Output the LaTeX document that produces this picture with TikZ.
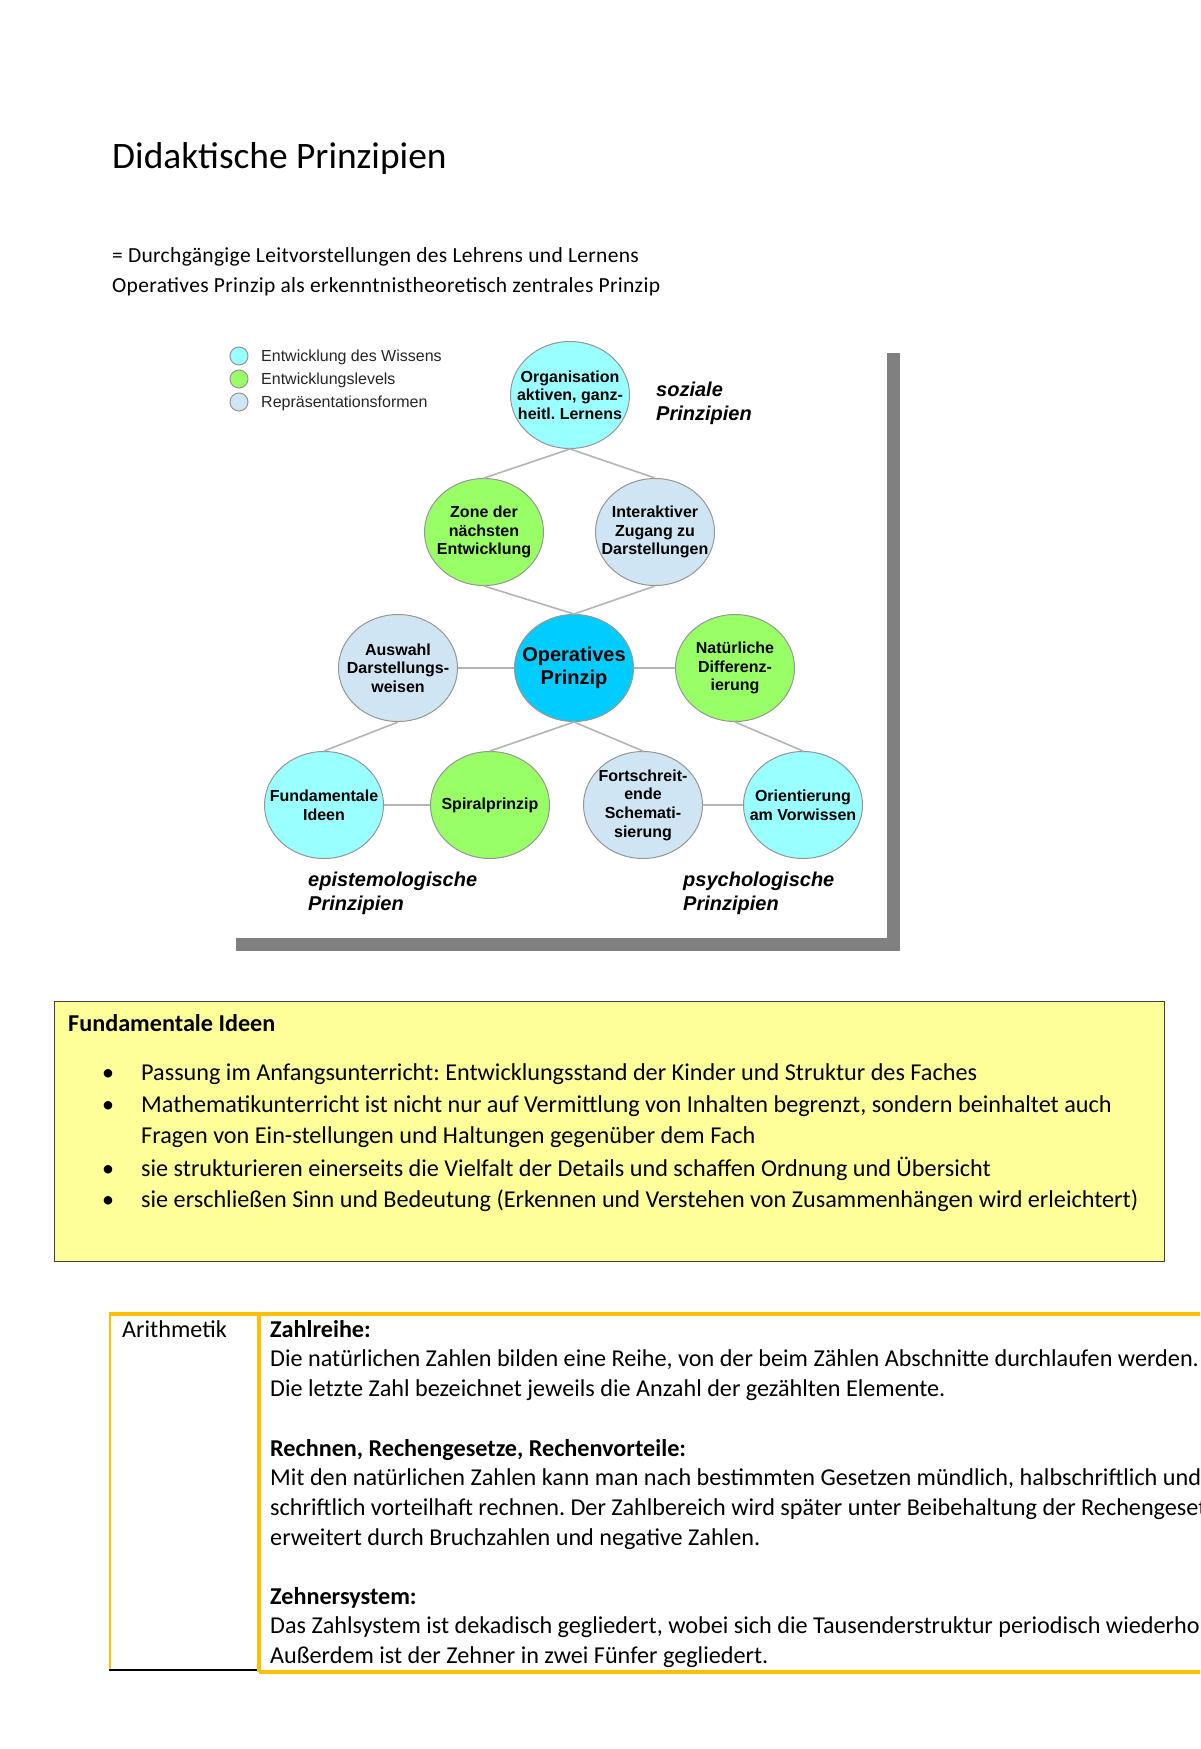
\documentclass[tikz,border=0pt]{standalone}
\usepackage{fontspec}
\setmainfont{Carlito}
\newfontfamily\arialf{Liberation Sans}
\newfontfamily\headf[LetterSpace=1.5]{Carlito}
\usetikzlibrary{shapes.geometric}
\definecolor{cyanL}{RGB}{153,255,255}
\definecolor{cyanD}{RGB}{0,204,255}
\definecolor{greenL}{RGB}{153,255,102}
\definecolor{blueL}{RGB}{207,229,244}
\definecolor{circBorder}{RGB}{150,150,150}
\definecolor{connGray}{RGB}{180,180,180}
\definecolor{shadowGray}{RGB}{128,128,128}
\definecolor{boxYellow}{RGB}{255,255,153}
\definecolor{tabOrange}{RGB}{255,192,0}
\begin{document}
\frenchspacing
\begin{tikzpicture}[x=1pt,y=-1pt,
  circ/.style={ellipse, draw=circBorder, line width=1pt, minimum width=119pt, minimum height=107pt, inner sep=0pt},
  lbl/.style={inner sep=0pt, align=center, font=\arialf\bfseries\fontsize{16}{18.6}\selectfont},
  conn/.style={draw=connGray, line width=1.6pt},
  legdot/.style={circle, draw=circBorder, line width=1pt, minimum size=18pt, inner sep=0pt},
  legtext/.style={anchor=west, inner sep=0pt, font=\arialf\fontsize{16}{19}\selectfont, text=black!85},
  grp/.style={anchor=west, align=left, inner sep=0pt, font=\arialf\bfseries\itshape\fontsize{20}{24}\selectfont},
  doc/.style={anchor=base west, inner sep=0pt, font=\headf\fontsize{21.5}{25}\selectfont},
  boxtext/.style={anchor=base west, inner sep=0pt, font=\fontsize{24.2}{29}\selectfont},
  boxbold/.style={boxtext, font=\bfseries\fontsize{24.2}{29}\selectfont},
  bul/.style={anchor=base, inner sep=0pt, font=\fontsize{24}{29}\selectfont},
]
\useasboundingbox[fill=white] (0,0) rectangle (1200,1749);

% header
\node[doc, font=\fontsize{37.4}{42}\selectfont] (title) at (112,168) {Didaktische Prinzipien};
\node[doc] (l1) at (112,262) {= Durchgängige Leitvorstellungen des Lehrens und Lernens};
\node[doc] (l2) at (112,292) {Operatives Prinzip als erkenntnistheoretisch zentrales Prinzip};

% diagram frame shadow
\fill[shadowGray] (887,353) rectangle (900,951);
\fill[shadowGray] (236,938) rectangle (900,951);

% legend
\node[legdot, fill=cyanL] (lg1) at (239,356) {};
\node[legdot, fill=greenL] (lg2) at (239,379) {};
\node[legdot, fill=blueL] (lg3) at (239,402) {};
\node[legtext] (lt1) at (261,357) {Entwicklung des Wissens};
\node[legtext] (lt2) at (261,380) {Entwicklungslevels};
\node[legtext] (lt3) at (261,403) {Repräsentationsformen};

% circles
\node[circ, fill=cyanL, label={[lbl]center:Organisation\\aktiven, ganz-\\heitl. Lernens}] (org) at (570,395) {};
\node[circ, fill=greenL, label={[lbl]center:Zone der\\nächsten\\Entwicklung}] (zone) at (484,532) {};
\node[circ, fill=blueL, label={[lbl]center:Interaktiver\\Zugang zu\\Darstellungen}] (inter) at (655,532) {};
\node[circ, fill=blueL, label={[lbl]center:Auswahl\\Darstellungs-\\weisen}] (ausw) at (398,668) {};
\node[circ, fill=cyanD, label={[lbl, font=\arialf\bfseries\fontsize{20}{23.5}\selectfont]center:Operatives\\Prinzip}] (oper) at (574,668) {};
\node[circ, fill=greenL, label={[lbl]center:Natürliche\\Differenz-\\ierung}] (nat) at (735,668) {};
\node[circ, fill=cyanL, label={[lbl]center:Fundamentale\\Ideen}] (fund) at (324,805) {};
\node[circ, fill=greenL, label={[lbl]center:Spiralprinzip}] (spir) at (490,805) {};
\node[circ, fill=blueL, label={[lbl]center:Fortschreit-\\ende\\Schemati-\\sierung}] (fort) at (643,805) {};
\node[circ, fill=cyanL, label={[lbl]center:Orientierung\\am Vorwissen}] (orie) at (803,805) {};

% connectors
\draw[conn] (org.south) -- (zone.north);
\draw[conn] (org.south) -- (inter.north);
\draw[conn] (zone.south) -- (oper.north);
\draw[conn] (inter.south) -- (oper.north);
\draw[conn] (ausw.east) -- (oper.west);
\draw[conn] (oper.east) -- (nat.west);
\draw[conn] (ausw.south) -- (fund.north);
\draw[conn] (oper.south) -- (spir.north);
\draw[conn] (oper.south) -- (fort.north);
\draw[conn] (nat.south) -- (orie.north);
\draw[conn] (fund.east) -- (spir.west);
\draw[conn] (fort.east) -- (orie.west);

% group labels
\node[grp] (soz) at (656,403) {soziale\\Prinzipien};
\node[grp] (epi) at (308,893) {epistemologische\\Prinzipien};
\node[grp] (psy) at (683,893) {psychologische\\Prinzipien};

% yellow box
\node[draw=black!75, line width=1.2pt, fill=boxYellow, minimum width=1110pt, minimum height=260pt, anchor=north west, inner sep=0pt] (ybox) at (54,1001) {};
\node[boxbold] (yt) at (68,1031) {Fundamentale Ideen};
\node[bul] (b1) at (108,1080) {\textbullet};
\node[bul] (b2) at (108,1112) {\textbullet};
\node[bul] (b4) at (108,1176) {\textbullet};
\node[bul] (b5) at (108,1207) {\textbullet};
\node[boxtext] (t1) at (141,1080) {Passung im Anfangsunterricht: Entwicklungsstand der Kinder und Struktur des Faches};
\node[boxtext] (t2) at (141,1112) {Mathematikunterricht ist nicht nur auf Vermittlung von Inhalten begrenzt, sondern beinhaltet auch};
\node[boxtext] (t3) at (141,1143) {Fragen von Ein-stellungen und Haltungen gegenüber dem Fach};
\node[boxtext] (t4) at (141,1176) {sie strukturieren einerseits die Vielfalt der Details und schaffen Ordnung und Übersicht};
\node[boxtext] (t5) at (141,1207) {sie erschließen Sinn und Bedeutung (Erkennen und Verstehen von Zusammenhängen wird erleichtert)};

% table
\coordinate (tl) at (109,1314);
\coordinate (tr) at (1200,1314);
\coordinate (dt) at (259,1314);
\coordinate (db) at (259,1672);
\coordinate (bl) at (109,1670);
\coordinate (br) at (1200,1672);
\draw[tabOrange, line width=2pt] (110,1314) -- (110,1670);
\draw[black, line width=2.5pt] (bl) -- (259,1670);
\draw[tabOrange, line width=4pt] (dt) -- (db);
\draw[tabOrange, line width=4pt] (db) -- (br);
\draw[tabOrange, line width=4pt] (tl) -- (tr);
\begin{scope}
\clip (0,0) rectangle (1200,1749);
\node[boxtext] (ar) at (122,1337) {Arithmetik};
\node[boxbold] (z1) at (270,1337) {Zahlreihe:};
\node[boxtext] (z2) at (270,1366) {Die natürlichen Zahlen bilden eine Reihe, von der beim Zählen Abschnitte durchlaufen werden.};
\node[boxtext] (z3) at (270,1396) {Die letzte Zahl bezeichnet jeweils die Anzahl der gezählten Elemente.};
\node[boxbold] (r1) at (270,1456) {Rechnen, Rechengesetze, Rechenvorteile:};
\node[boxtext] (r2) at (270,1485) {Mit den natürlichen Zahlen kann man nach bestimmten Gesetzen mündlich, halbschriftlich und};
\node[boxtext] (r3) at (270,1515) {schriftlich vorteilhaft rechnen. Der Zahlbereich wird später unter Beibehaltung der Rechengesetze};
\node[boxtext] (r4) at (270,1545) {erweitert durch Bruchzahlen und negative Zahlen.};
\node[boxbold] (s1) at (270,1604) {Zehnersystem:};
\node[boxtext] (s2) at (270,1633) {Das Zahlsystem ist dekadisch gegliedert, wobei sich die Tausenderstruktur periodisch wiederholt.};
\node[boxtext] (s3) at (270,1663) {Außerdem ist der Zehner in zwei Fünfer gegliedert.};
\end{scope}
\end{tikzpicture}
\end{document}
